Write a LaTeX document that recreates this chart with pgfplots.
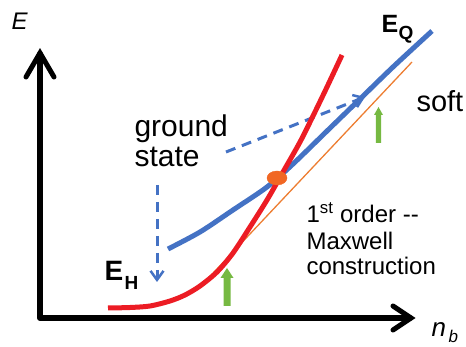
\documentclass[border=0pt]{standalone}
\usepackage{pgfplots}
\pgfplotsset{compat=1.18}
\usepackage{fontspec}
\setmainfont{Liberation Sans}
\usetikzlibrary{arrows.meta}

\definecolor{qblue}{RGB}{68,114,196}
\definecolor{hred}{RGB}{236,28,36}
\definecolor{tangent}{RGB}{237,125,49}
\definecolor{dotorange}{RGB}{241,103,36}
\definecolor{arrowgreen}{RGB}{118,185,66}

\begin{document}
\begin{tikzpicture}
\useasboundingbox (0,0) rectangle (466pt,347pt);
\clip (0,0) rectangle (466pt,347pt);
\begin{axis}[
    at={(0,0)}, anchor=south west,
    width=466pt, height=347pt, scale only axis,
    xmin=0, xmax=466, ymin=0, ymax=347,
    y dir=reverse,
    hide axis, clip=false
]
    % axes (drawn as plain polylines, pixel coordinates)
    \addplot[black, line width=6pt, line cap=round, line join=round]
        coordinates {(40,54) (40,318) (410,318)};
    \addplot[black, line width=5pt, line cap=round, line join=miter]
        coordinates {(26,77) (40,53) (54,77)};
    \addplot[black, line width=5pt, line cap=round, line join=miter]
        coordinates {(393,306) (411,318) (393,330)};

    % tangent (Maxwell construction)
    \addplot[tangent, line width=1.3pt] coordinates {(200,287) (412,62)};

    % dashed "ground state" arrows
    \addplot[qblue, line width=3pt, dash pattern=on 10pt off 7pt,
        -{Straight Barb[length=9pt,width=13pt,line width=2.5pt]}]
        coordinates {(157,185) (157,282)};
    \addplot[qblue, line width=3pt, dash pattern=on 10pt off 7pt,
        -{Straight Barb[length=9pt,width=13pt,line width=2.5pt]}]
        coordinates {(226,152) (365,97)};

    % E_Q (quark) branch
    \addplot[qblue, line width=5pt, smooth] coordinates {
        (168,249) (200,232) (233,210) (267,187) (293,164)
        (327,131) (360,99) (393,67) (432,31)};

    % E_H (hadronic) branch
    \addplot[hred, line width=5pt, smooth] coordinates {
        (108,308) (130,307.5) (150,306) (170,301) (185,295) (200,286)
        (217,272) (233,253) (250,227) (267,200) (283,172) (300,142)
        (313,116) (327,87) (342,55)};

    % crossing point
    \addplot[only marks, mark=*, mark size=7pt, color=dotorange,
        mark options={xscale=1.43}] coordinates {(277,178)};

    % green arrows
    \addplot[fill=arrowgreen, draw=none] coordinates {
        (223.5,306) (223.5,278) (220.5,278) (227,268) (233.5,278)
        (230.5,278) (230.5,306)} --cycle;
    \addplot[fill=arrowgreen, draw=none] coordinates {
        (375.8,143) (375.8,115) (374,115) (378.5,107) (383,115)
        (381.2,115) (381.2,143)} --cycle;

    % labels
    \node[anchor=base west, font=\fontsize{24}{28}\selectfont]
        at (axis cs:8,30) {\textit{E}};
    \node[anchor=base west, font=\fontsize{26}{30}\selectfont]
        at (axis cs:428,337) {\textit{n}};
    \node[anchor=base west, font=\fontsize{17}{20}\selectfont]
        at (axis cs:445,343) {\textit{b}};

    \node[anchor=base west, font=\fontsize{30}{36}\selectfont]
        at (axis cs:131,137) {ground};
    \node[anchor=base west, font=\fontsize{30}{36}\selectfont]
        at (axis cs:131,167) {state};
    \node[anchor=base west, font=\fontsize{29}{34}\selectfont]
        at (axis cs:413,112) {soft};

    \node[anchor=base west, font=\fontsize{25}{30}\selectfont\bfseries]
        at (axis cs:378,33) {E};
    \node[anchor=base west, font=\fontsize{19}{22}\selectfont\bfseries]
        at (axis cs:395,40) {Q};
    \node[anchor=base west, font=\fontsize{28}{32}\selectfont\bfseries]
        at (axis cs:101,281) {E};
    \node[anchor=base west, font=\fontsize{19}{22}\selectfont\bfseries]
        at (axis cs:121,290) {H};

    \node[anchor=base west, font=\fontsize{24}{28}\selectfont]
        at (axis cs:303,223) {1\textsuperscript{st} order {-}{-}};
    \node[anchor=base west, font=\fontsize{24}{28}\selectfont]
        at (axis cs:303,250) {Maxwell};
    \node[anchor=base west, font=\fontsize{24}{28}\selectfont]
        at (axis cs:303,275) {construction};
\end{axis}
\end{tikzpicture}
\end{document}
